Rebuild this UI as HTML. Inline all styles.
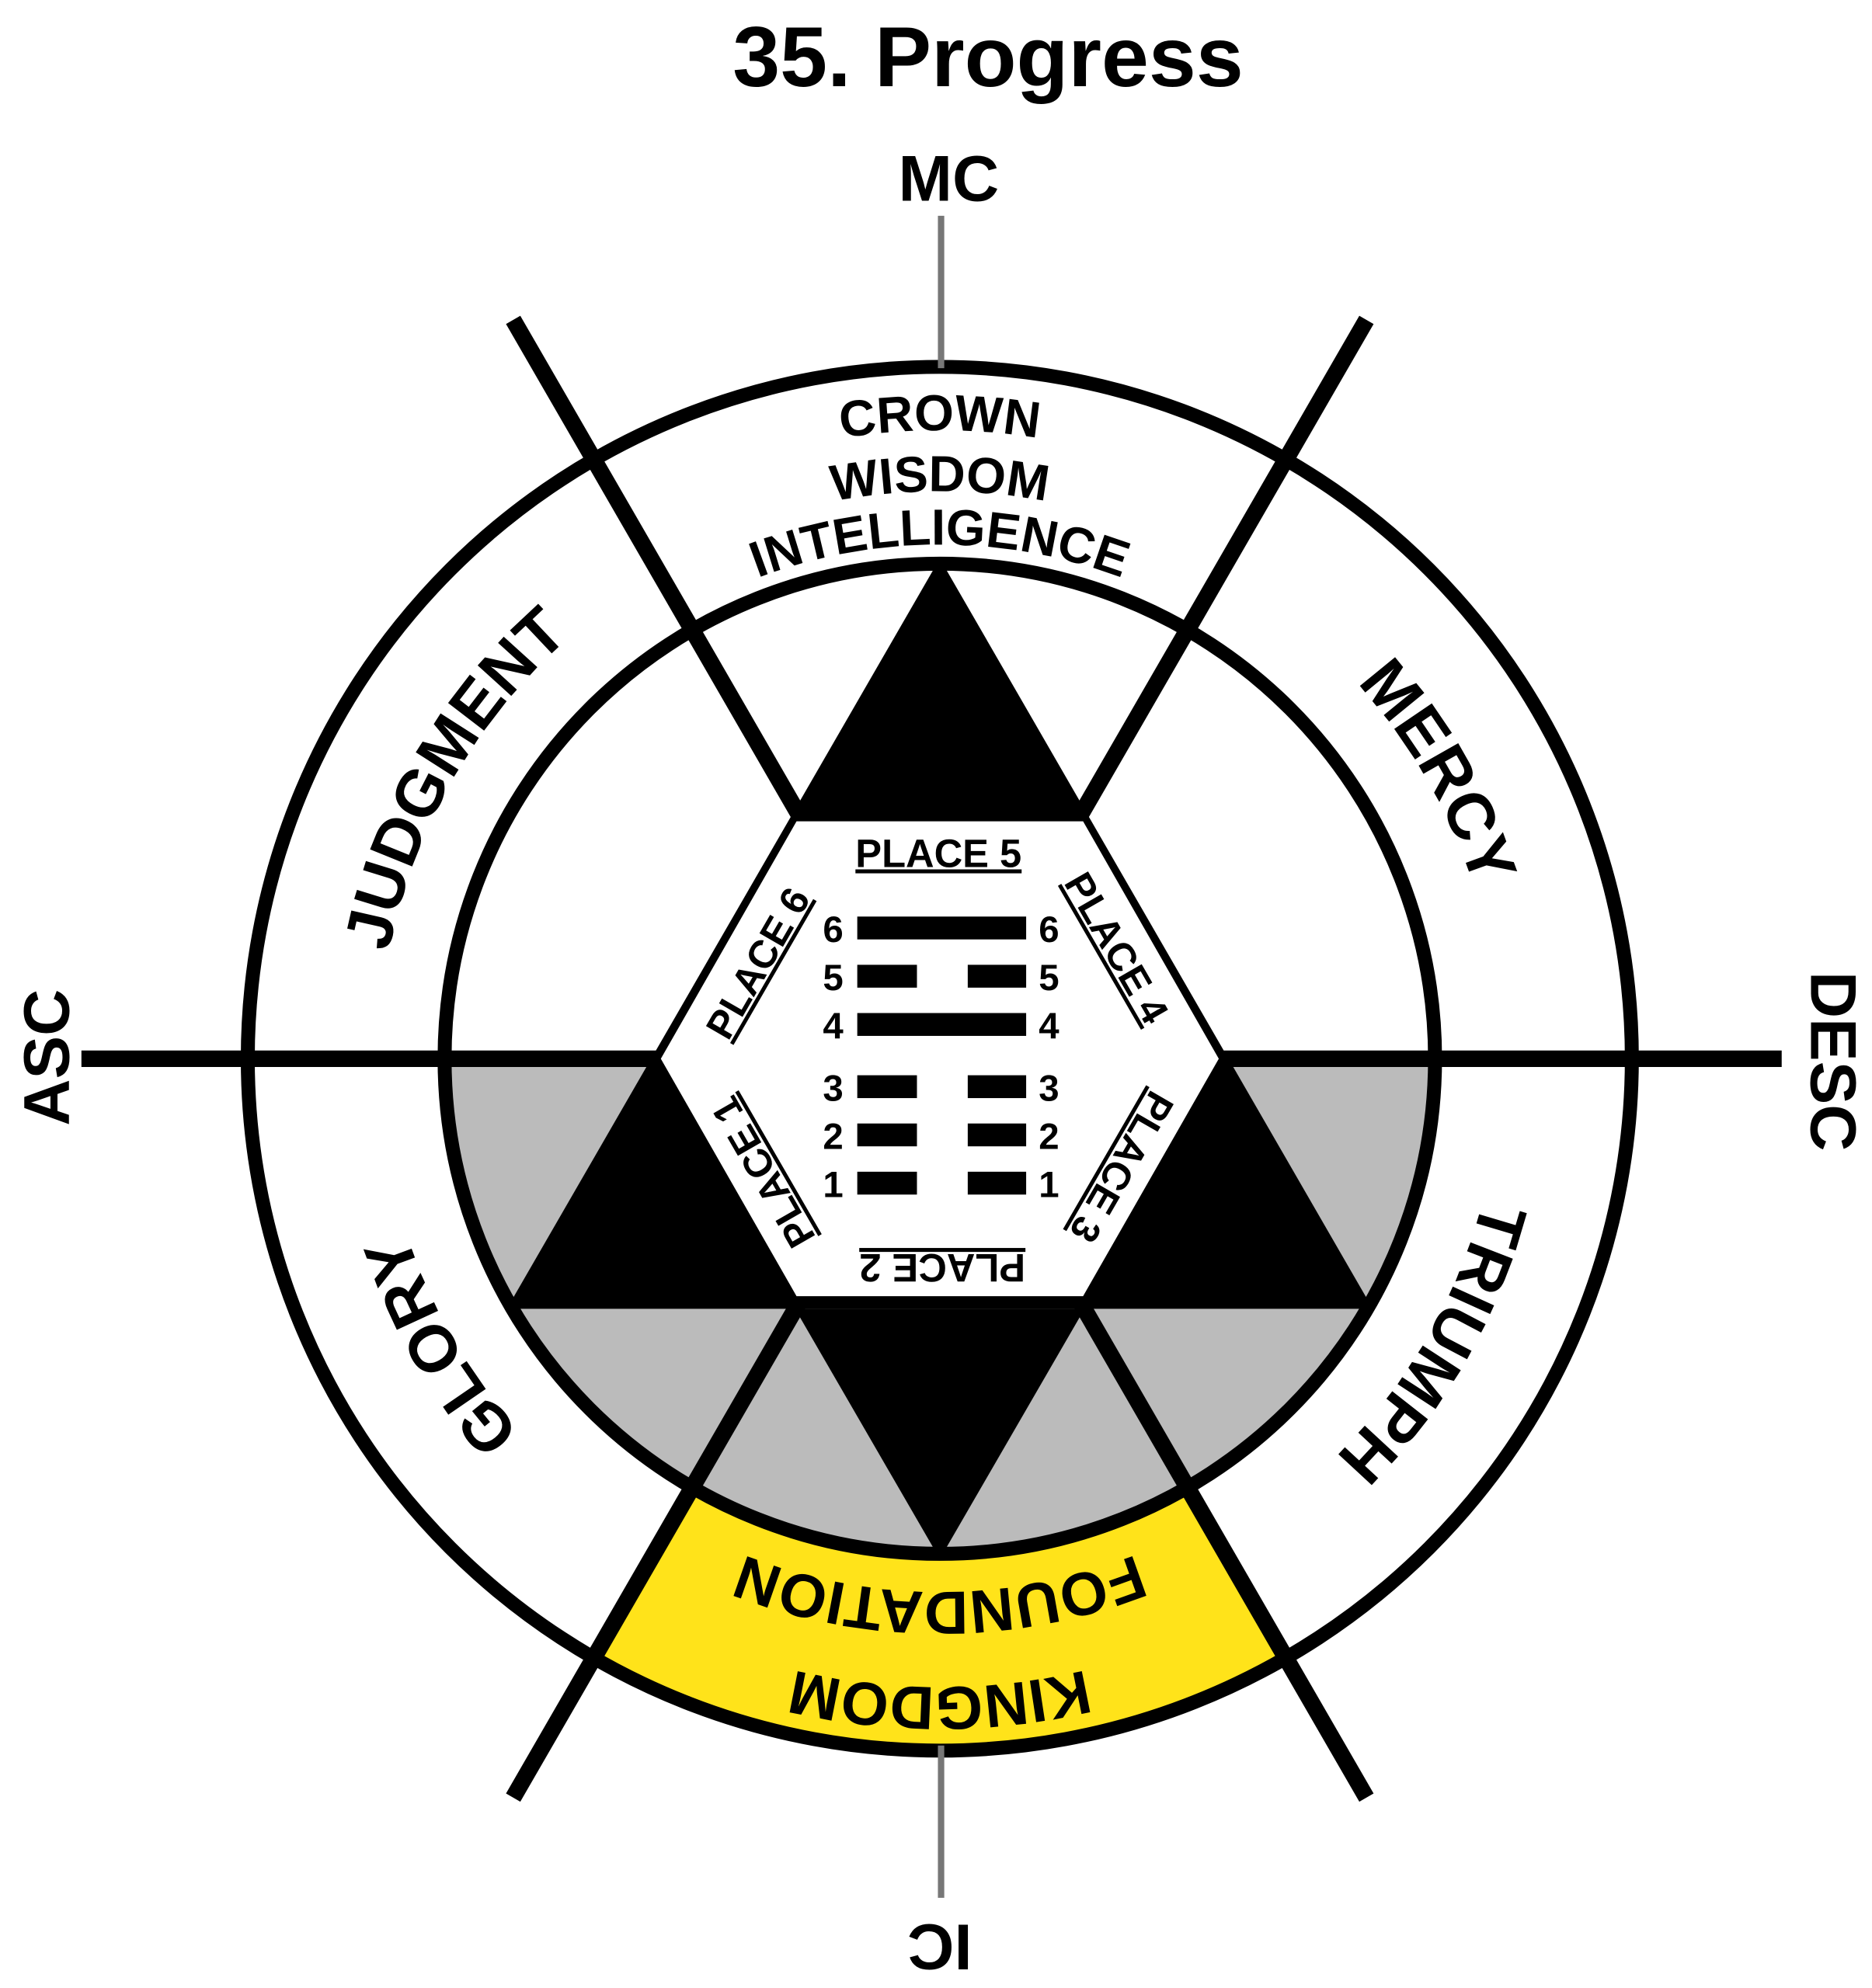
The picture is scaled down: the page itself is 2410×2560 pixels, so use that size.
<!DOCTYPE html>
<html><head><meta charset="utf-8"><style>
html,body{margin:0;padding:0;background:#fff;}
svg{display:block;}
text{font-family:"Liberation Sans",Arial,sans-serif;font-weight:bold;fill:#000;}
</style></head><body>
<svg width="2410" height="2560" viewBox="0 0 1474 1566" xmlns="http://www.w3.org/2000/svg">
<defs>
<path id="r495" d="M245,834 A495,495 0 1 1 1235,834 A495,495 0 1 1 245,834"/>
<path id="r447" d="M293,834 A447,447 0 1 1 1187,834 A447,447 0 1 1 293,834"/>
<path id="r405" d="M335,834 A405,405 0 1 1 1145,834 A405,405 0 1 1 335,834"/>
<path id="r442" d="M298,834 A442,442 0 1 1 1182,834 A442,442 0 1 1 298,834"/>
<path id="r420" d="M320,834 A420,420 0 1 1 1160,834 A420,420 0 1 1 320,834"/>
</defs>
<rect width="1474" height="1566" fill="#fff"/>
<path d="M350,834 A390,390 0 0 0 1130,834 Z" fill="#bbbbbb"/>
<path d="M935,1172 L1012,1306 A545,545 0 0 1 468,1306 L545,1172 A390,390 0 0 0 935,1172 Z" fill="#ffe31a"/>
<circle cx="740" cy="834" r="545" fill="none" stroke="#000" stroke-width="11"/>
<circle cx="740" cy="834" r="390" fill="none" stroke="#000" stroke-width="11"/>
<line x1="741" y1="170" x2="741" y2="290" stroke="#777" stroke-width="5"/>
<line x1="741" y1="1375" x2="741" y2="1495" stroke="#777" stroke-width="5"/>
<line x1="64" y1="834" x2="1403" y2="834" stroke="#000" stroke-width="13"/>
<line x1="404" y1="252" x2="1076" y2="1416" stroke="#000" stroke-width="13"/>
<line x1="1076" y1="252" x2="404" y2="1416" stroke="#000" stroke-width="13"/>
<polygon points="740,440 1081,1031 399,1031" fill="#000"/>
<polygon points="626,1031 854,1031 740,1228" fill="#000"/>
<polygon points="626,645 854,645 962,834 854,1023 626,1023 518,834" fill="#fff" stroke="#000" stroke-width="4"/>
<text x="778" y="68" font-size="67" text-anchor="middle">35. Progress</text>
<text x="747" y="158" font-size="51" text-anchor="middle">MC</text>
<text transform="translate(54,833) rotate(-90)" font-size="51" text-anchor="middle">ASC</text>
<text transform="translate(1426,836) rotate(90)" font-size="51" text-anchor="middle">DESC</text>
<text transform="translate(740,1516) rotate(180)" font-size="51" text-anchor="middle">IC</text>
<text font-size="40" text-anchor="middle"><textPath href="#r495" startOffset="25%">CROWN</textPath></text>
<text font-size="40" text-anchor="middle"><textPath href="#r447" startOffset="25%">WISDOM</textPath></text>
<text font-size="40" text-anchor="middle"><textPath href="#r405" startOffset="25%">INTELLIGENCE</textPath></text>
<text font-size="52" text-anchor="middle"><textPath href="#r442" startOffset="8.3%">JUDGMENT</textPath></text>
<text font-size="52" text-anchor="middle"><textPath href="#r442" startOffset="41.7%">MERCY</textPath></text>
<text font-size="52" text-anchor="middle"><textPath href="#r442" startOffset="58.3%">TRIUMPH</textPath></text>
<text font-size="52" text-anchor="middle"><textPath href="#r442" startOffset="91.7%">GLORY</textPath></text>
<text font-size="48" text-anchor="middle"><textPath href="#r420" startOffset="75%">FOUNDATION</textPath></text>
<text font-size="48" text-anchor="middle"><textPath href="#r495" startOffset="75%">KINGDOM</textPath></text>
<g font-size="31" text-anchor="middle" text-decoration="underline">
<text x="739" y="683">PLACE 5</text>
<text transform="translate(606,764) rotate(-60)">PLACE 6</text>
<text transform="translate(870,752) rotate(60)">PLACE 4</text>
<text transform="translate(874,914) rotate(120)">PLACE 3</text>
<text transform="translate(742,988) rotate(180)">PLACE 2</text>
<text transform="translate(610,918) rotate(240)">PLACE 1</text>
</g>
<g fill="#000">
<rect x="675" y="722" width="133" height="18"/>
<rect x="675" y="760" width="47" height="18"/><rect x="762" y="760" width="46" height="18"/>
<rect x="675" y="798" width="133" height="18"/>
<rect x="675" y="847" width="47" height="18"/><rect x="762" y="847" width="46" height="18"/>
<rect x="675" y="885" width="47" height="18"/><rect x="762" y="885" width="46" height="18"/>
<rect x="675" y="923" width="47" height="18"/><rect x="762" y="923" width="46" height="18"/>
</g>
<g font-size="29" text-anchor="middle">
<text x="656" y="742">6</text><text x="826" y="742">6</text>
<text x="656" y="780">5</text><text x="826" y="780">5</text>
<text x="656" y="818">4</text><text x="826" y="818">4</text>
<text x="656" y="867">3</text><text x="826" y="867">3</text>
<text x="656" y="905">2</text><text x="826" y="905">2</text>
<text x="656" y="943">1</text><text x="826" y="943">1</text>
</g>
</svg>
</body></html>
